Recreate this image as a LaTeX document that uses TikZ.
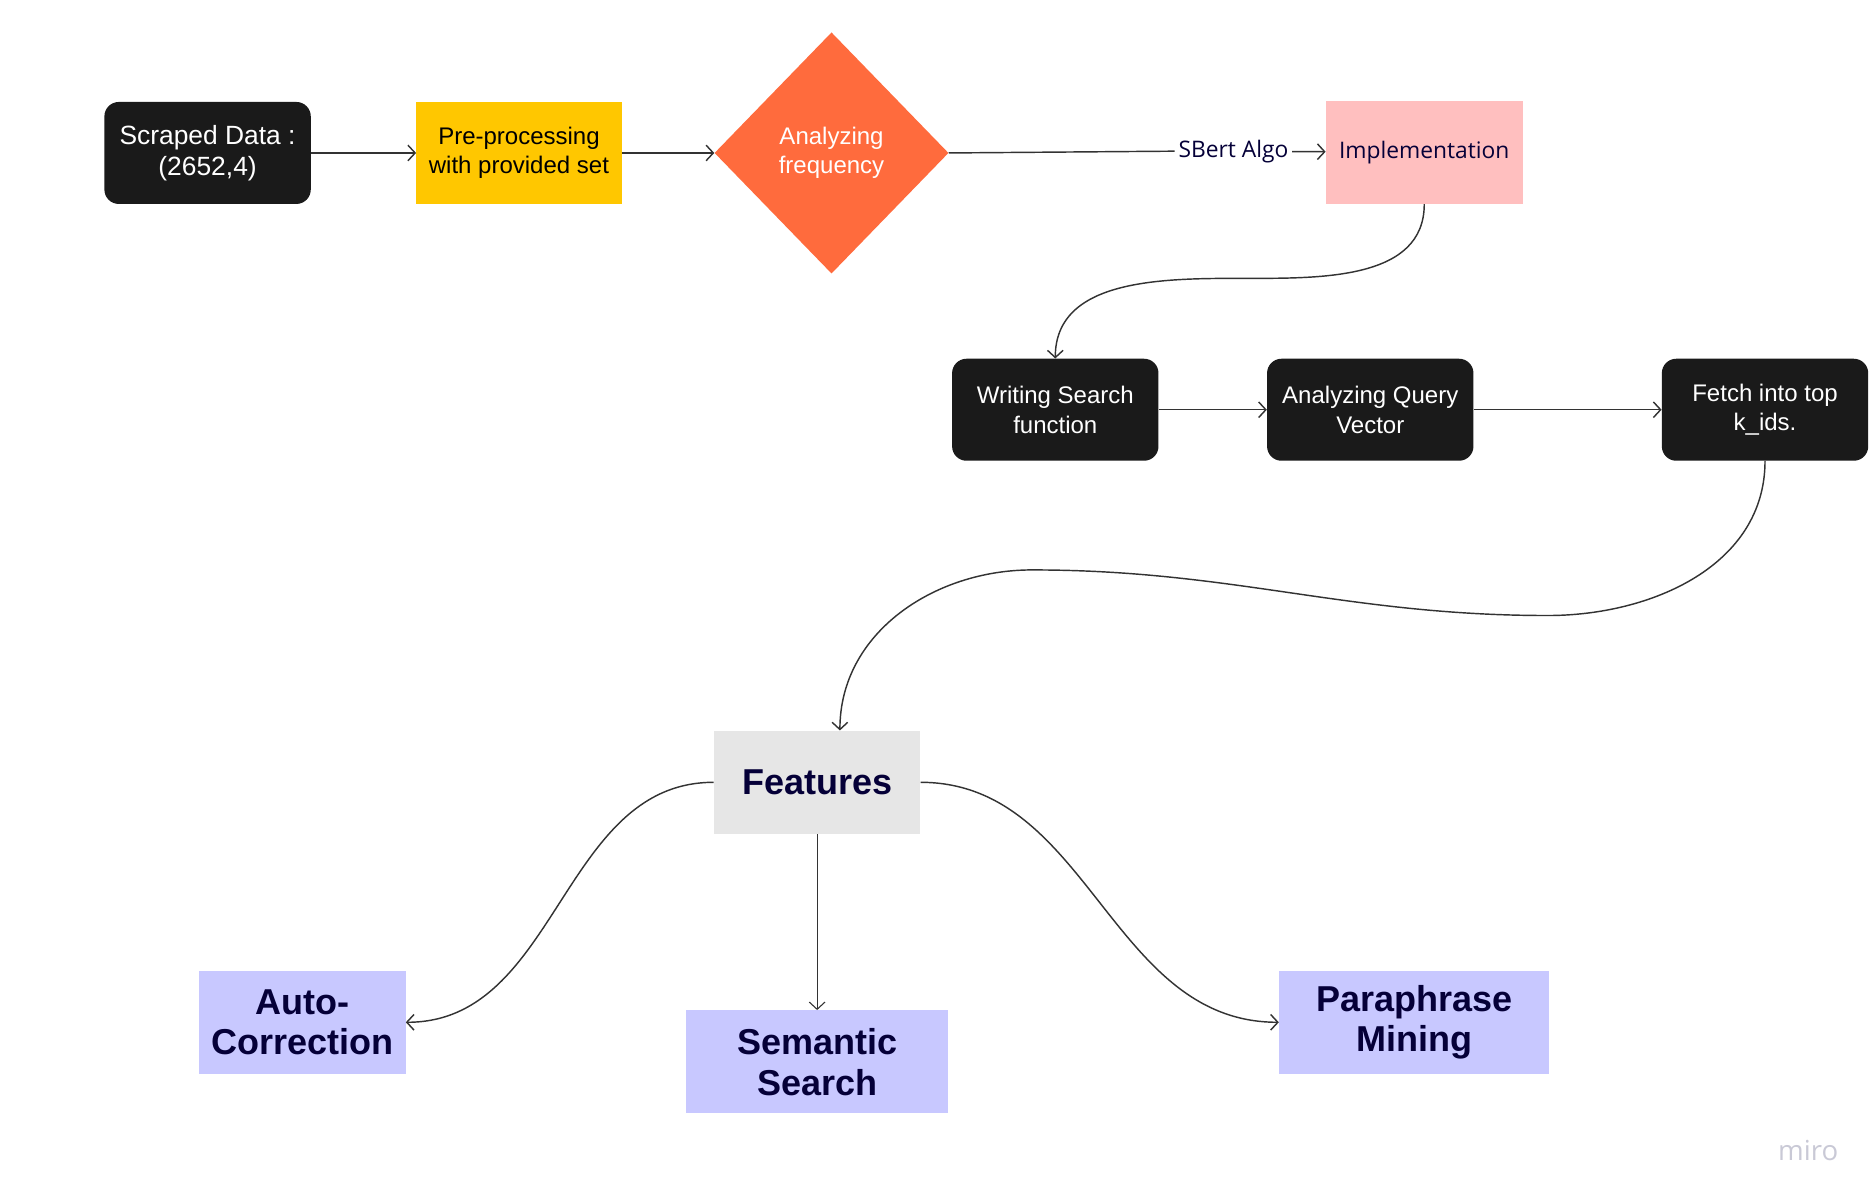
\documentclass[tikz,border=0pt]{standalone}
\usepackage{fontspec}
\setmainfont{Liberation Sans}
\newfontfamily\opensans{Open Sans}
\usepackage{xcolor}
\usetikzlibrary{shapes.geometric,arrows.meta}
\definecolor{boxblack}{HTML}{1A1A1A}
\definecolor{boxyellow}{HTML}{FFC700}
\definecolor{boxorange}{HTML}{FF6B3D}
\definecolor{boxpink}{HTML}{FFBFBF}
\definecolor{boxgray}{HTML}{E6E6E6}
\definecolor{boxlavender}{HTML}{C8C8FF}
\definecolor{navy}{HTML}{050038}
\definecolor{linegray}{HTML}{333333}
\definecolor{marklight}{HTML}{C9C9D6}

\begin{document}
\begin{tikzpicture}[x=1pt,y=1pt,
  box/.style={minimum width=172pt, minimum height=85pt, inner sep=0pt, align=center,
    font=\fontsize{20}{24.5}\selectfont},
  darkbox/.style={box, fill=boxblack, text=white, rounded corners=12pt},
  featbox/.style={box, minimum height=86pt, fill=boxlavender, text=navy,
    font=\fontsize{30}{34}\selectfont\bfseries},
  link/.style={draw=linegray, line width=1.2pt, -{Straight Barb[length=6pt,width=13pt]}}]

\useasboundingbox[fill=white] (0,0) rectangle (1561,1000);

\node[darkbox, font=\fontsize{22}{26}\selectfont] (scraped) at (173,872.5) {Scraped Data :\\(2652,4)};
\node[box, minimum width=171pt, fill=boxyellow] (prep) at (432.5,872.5) {Pre-processing\\with provided set};
\node[diamond, fill=boxorange, text=white, minimum width=195pt, minimum height=201pt,
  inner sep=0pt, align=center, font=\fontsize{20}{24.5}\selectfont] (freq) at (693,872.5) {Analyzing\\frequency};
\node[text=navy, inner sep=3pt, font=\opensans\fontsize{19}{23}\selectfont] (sbert) at (1028,874) {SBert Algo};
\node[box, minimum width=164pt, minimum height=86pt, fill=boxpink, text=navy,
  font=\opensans\fontsize{19}{23}\selectfont] (impl) at (1187,873) {Implementation};

\node[darkbox] (write) at (879.5,658.5) {Writing Search\\function};
\node[darkbox] (query) at (1142,658.5) {Analyzing Query\\Vector};
\node[darkbox] (fetch) at (1471,658.5) {Fetch into top\\k\_ids.};

\node[featbox, fill=boxgray] (feat) at (681,348) {Features};
\node[featbox] (auto) at (252,148) {Auto-\\Correction};
\node[featbox, minimum width=218pt] (sem) at (681,115) {Semantic\\Search};
\node[featbox, minimum width=225pt] (para) at (1178.5,148) {Paraphrase\\Mining};

\node[text=marklight, font=\opensans\fontsize{23}{25}\selectfont] (miro) at (1507,41) {miro};

\draw[link] (scraped) -- (prep);
\draw[link] (prep) -- (freq);
\draw[draw=linegray, line width=1.2pt] (freq.east) -- (sbert.west);
\draw[link] (sbert) -- (impl);

\coordinate (bend1) at (1040,768);
\draw[link] (impl.south) to[out=-90,in=0] (bend1) to[out=180,in=90] (write.north);

\draw[link] (write) -- (query);
\draw[link] (query) -- (fetch);

\coordinate (bend2) at (1290,487);
\coordinate (bend3) at (860,525);
\draw[link] (fetch.south) to[out=-90,in=0] (bend2) to[out=180,in=0] (bend3)
  to[out=180,in=90] ([xshift=19pt]feat.north);

\draw[link] (feat.west) to[out=180,in=0] (auto.east);
\draw[link, line width=0.9pt] (feat.south) -- (sem.north);
\draw[link] (feat.east) to[out=0,in=180] (para.west);

\end{tikzpicture}
\end{document}
